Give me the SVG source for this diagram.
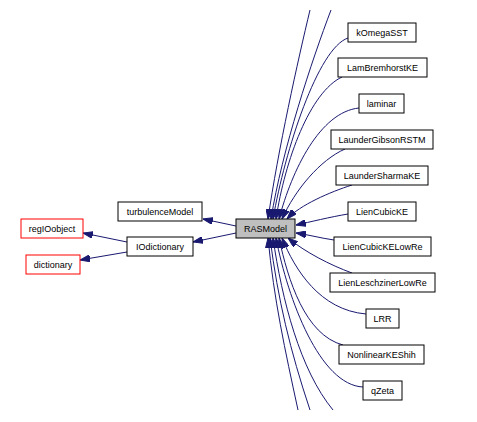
<svg xmlns="http://www.w3.org/2000/svg" width="477" height="422" viewBox="0 0 477 422">
<defs>
<marker id="ah" viewBox="0 0 10 7" refX="10" refY="3.5" markerWidth="10" markerHeight="7" markerUnits="userSpaceOnUse" orient="auto">
<path d="M0,0 L10,3.5 L0,7 z" fill="#191970" stroke="#191970"/>
</marker>
<style>
.n rect{fill:#fff;stroke:#000;stroke-width:1}
.n.sel rect{fill:#bfbfbf}
.n.red rect{stroke:#ff0000}
.n text{font-family:"Liberation Sans",Arial,sans-serif;font-size:9px;text-anchor:middle;fill:#000}
.e path{fill:none;stroke:#191970;stroke-width:1;marker-end:url(#ah)}
</style>
</defs>
<rect width="477" height="422" fill="#fff"/>
<g id="edges" class="e">
<path d="M236,226 L203,219"/>
<path d="M236,233 L193,242"/>
<path d="M127,242 L83,233"/>
<path d="M127,252 L80,260"/>
<path d="M310,10 C298,60 278,150 268,219"/>
<path d="M331,10 C312,60 282,150 271,219"/>
<path d="M348,38 C318,48 285,150 273,219"/>
<path d="M342,77 C310,92 285,160 276,219"/>
<path d="M359,108 C320,112 292,170 279,219"/>
<path d="M345,149 C320,160 295,190 282,219"/>
<path d="M352,185 C330,192 300,205 287,219"/>
<path d="M348,214 C330,217 310,222 296,225"/>
<path d="M334,240 C320,238 310,235 296,233"/>
<path d="M352,273 C330,265 305,252 288,238"/>
<path d="M366,314 C320,310 295,270 282,238"/>
<path d="M343,345 C305,335 288,280 279,238"/>
<path d="M363,387 C320,385 288,300 276,238"/>
<path d="M333,410 C300,370 282,300 273,238"/>
<path d="M310,410 C290,350 278,300 270,238"/>
<path d="M298,410 C285,350 274,300 268,238"/>
</g>
<g id="kOmegaSST" class="n"><rect x="348" y="23" width="68" height="19"/><text x="382" y="35.5">kOmegaSST</text></g>
<g id="LamBremhorstKE" class="n"><rect x="338" y="58" width="89" height="19"/><text x="382.5" y="70.5">LamBremhorstKE</text></g>
<g id="laminar" class="n"><rect x="359" y="94" width="45" height="19"/><text x="381.5" y="106.5">laminar</text></g>
<g id="LaunderGibsonRSTM" class="n"><rect x="331" y="130" width="102" height="19"/><text x="382" y="142.5">LaunderGibsonRSTM</text></g>
<g id="LaunderSharmaKE" class="n"><rect x="336" y="166" width="92" height="19"/><text x="382" y="178.5">LaunderSharmaKE</text></g>
<g id="LienCubicKE" class="n"><rect x="348" y="202" width="68" height="19"/><text x="382" y="214.5">LienCubicKE</text></g>
<g id="LienCubicKELowRe" class="n"><rect x="334" y="237" width="97" height="19"/><text x="382.5" y="249.5">LienCubicKELowRe</text></g>
<g id="RASModel" class="n sel"><rect x="236" y="219" width="59" height="19"/><text x="265.5" y="231.5">RASModel</text></g>
<g id="LienLeschzinerLowRe" class="n"><rect x="330" y="273" width="105" height="19"/><text x="382.5" y="285.5">LienLeschzinerLowRe</text></g>
<g id="LRR" class="n"><rect x="366" y="309" width="33" height="19"/><text x="382.5" y="321.5">LRR</text></g>
<g id="NonlinearKEShih" class="n"><rect x="339" y="345" width="85" height="19"/><text x="381.5" y="357.5">NonlinearKEShih</text></g>
<g id="qZeta" class="n"><rect x="363" y="381" width="39" height="19"/><text x="382.5" y="393.5">qZeta</text></g>
<g id="turbulenceModel" class="n"><rect x="118" y="202" width="84" height="19"/><text x="160" y="214.5">turbulenceModel</text></g>
<g id="IOdictionary" class="n"><rect x="127" y="237" width="66" height="19"/><text x="160" y="249.5">IOdictionary</text></g>
<g id="regIOobject" class="n red"><rect x="21" y="219" width="62" height="19"/><text x="52" y="231.5">regIOobject</text></g>
<g id="dictionary" class="n red"><rect x="26" y="255" width="54" height="19"/><text x="53" y="267.5">dictionary</text></g>
</svg>
